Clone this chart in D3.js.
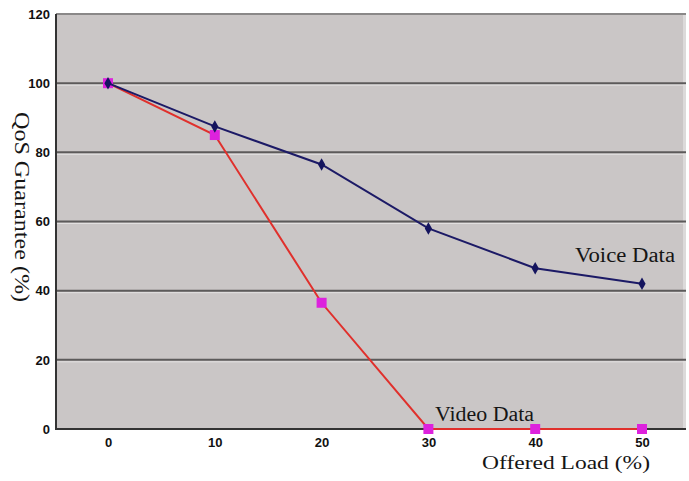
<!DOCTYPE html>
<html><head><meta charset="utf-8">
<script src="https://cdn.jsdelivr.net/npm/d3@7"></script>
<style>body{margin:0;background:#fff}svg{display:block}</style>
</head><body>
<svg id="c" width="689" height="481"></svg>
<script>
const loads = [0, 10, 20, 30, 40, 50];
const voiceData = [100, 87.5, 76.5, 58, 46.5, 42];
const videoData = [100, 85, 36.5, 0, 0, 0];
const yTicks = [0, 20, 40, 60, 80, 100, 120];
const xTicks = [0, 10, 20, 30, 40, 50];

const svg = d3.select("#c");
const L = 56, T = 14, R = 686, B = 429;
const x = d3.scaleLinear().domain([0, 50]).range([108, 642]);
const y = d3.scaleLinear().domain([0, 120]).range([B, T]);

svg.append("rect").attr("x", L).attr("y", T).attr("width", R - L).attr("height", B - T)
  .attr("fill", "#cac6c6");
svg.append("rect").attr("x", R - 3).attr("y", T).attr("width", 3).attr("height", B - T).attr("fill", "#dcdada");
svg.append("line").attr("x1", L).attr("x2", R).attr("y1", T).attr("y2", T).attr("stroke", "#8a8888").attr("stroke-width", 2);

const grid = svg.append("g");
yTicks.filter(d => d > 0 && d < 120).forEach(d => {
  grid.append("line").attr("x1", L).attr("x2", R).attr("y1", y(d)).attr("y2", y(d))
    .attr("stroke", "#5c5a5a").attr("stroke-width", 2);
  grid.append("line").attr("x1", L).attr("x2", R).attr("y1", y(d) + 2).attr("y2", y(d) + 2)
    .attr("stroke", "#e2e0e0").attr("stroke-width", 1);
});

const yAxis = d3.axisLeft(y).tickValues(yTicks).tickSize(0).tickPadding(6);
const gy = svg.append("g").attr("transform", `translate(${L},0)`).call(yAxis);
const xAxis = d3.axisBottom(x).tickValues(xTicks).tickSize(0).tickPadding(9);
const gx = svg.append("g").attr("transform", `translate(0,${B})`).call(xAxis);
[gx, gy].forEach(g => {
  g.select(".domain").remove();
  g.selectAll("text").attr("font-family", "Liberation Sans Narrow, Liberation Sans, Arial, sans-serif")
    .attr("font-weight", "bold").attr("font-size", 13).attr("fill", "#111");
});
svg.append("line").attr("x1", L).attr("x2", L).attr("y1", T).attr("y2", B + 1).attr("stroke", "#333").attr("stroke-width", 2);
svg.append("line").attr("x1", L).attr("x2", R).attr("y1", B).attr("y2", B).attr("stroke", "#333").attr("stroke-width", 2);

const line = d3.line().x((d, i) => x(loads[i])).y(d => y(d));

svg.append("path").datum(videoData).attr("d", line).attr("fill", "none")
  .attr("stroke", "#e0302c").attr("stroke-width", 2);
svg.selectAll(".vs").data(videoData).enter().append("rect")
  .attr("x", (d, i) => x(loads[i]) - 5).attr("y", d => y(d) - 5)
  .attr("width", 10).attr("height", 10).attr("fill", "#dd22dd");

svg.append("path").datum(voiceData).attr("d", line).attr("fill", "none")
  .attr("stroke", "#1c1a66").attr("stroke-width", 2);
svg.selectAll(".vd").data(voiceData).enter().append("path")
  .attr("d", d3.symbol().type(d3.symbolDiamond).size(45))
  .attr("transform", (d, i) => `translate(${x(loads[i])},${y(d)})`)
  .attr("fill", "#14145e");

const serif = "Liberation Serif, Times New Roman, serif";
function label(t, px, py, len, fs) {
  return svg.append("text").attr("x", px).attr("y", py).text(t)
    .attr("font-family", serif).attr("font-size", fs).attr("fill", "#151515")
    .attr("textLength", len).attr("lengthAdjust", "spacingAndGlyphs");
}
label("Voice Data", 575, 262, 100, 20);
label("Video Data", 435, 421, 99, 20);
label("Offered Load (%)", 482, 469, 168, 19);
svg.append("text").attr("transform", "translate(15,207) rotate(90)").attr("text-anchor", "middle")
  .text("QoS Guarantee (%)")
  .attr("font-family", serif).attr("font-size", 20).attr("fill", "#151515")
  .attr("textLength", 190).attr("lengthAdjust", "spacingAndGlyphs");
</script>
</body></html>
